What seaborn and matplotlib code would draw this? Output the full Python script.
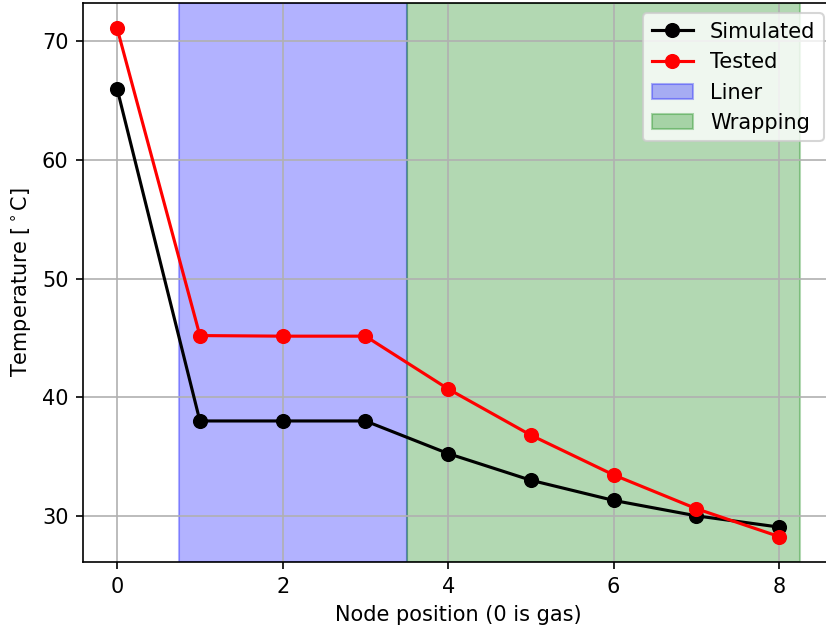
import matplotlib
matplotlib.use("Agg")
import matplotlib.pyplot as plt
import seaborn as sns
import pandas as pd

nodes = [0, 1, 2, 3, 4, 5, 6, 7, 8]
simulated = [66.0, 38.0, 38.0, 38.0, 35.25, 33.0, 31.3, 30.0, 29.05]
tested = [71.1, 45.2, 45.15, 45.15, 40.7, 36.8, 33.45, 30.6, 28.25]

liner_span = (0.75, 3.5)
wrapping_span = (3.5, 8.25)

df = pd.DataFrame({"node": nodes, "Simulated": simulated, "Tested": tested})

dpi = 150
fig = plt.figure(figsize=(826 / dpi, 630 / dpi), dpi=dpi)
# right spine sits just past the right edge of the picture, as in the reference
ax = fig.add_axes([83 / 826, 68 / 630, 751 / 826, 559 / 630])

sns.lineplot(data=df, x="node", y="Simulated", color="black", marker="o",
             markersize=6.5, markeredgecolor="black", linewidth=1.5,
             label="Simulated", ax=ax)
sns.lineplot(data=df, x="node", y="Tested", color="red", marker="o",
             markersize=6.5, markeredgecolor="red", linewidth=1.5,
             label="Tested", ax=ax)

ax.axvspan(*liner_span, color="blue", alpha=0.3, label="Liner")
ax.axvspan(*wrapping_span, color="green", alpha=0.3, label="Wrapping")

ax.grid(True)
ax.set_xlabel("Node position (0 is gas)")
ax.set_ylabel(r"Temperature [$^\circ$C]")
ax.legend(loc="upper right")

fig.savefig("out.png", dpi=dpi)
